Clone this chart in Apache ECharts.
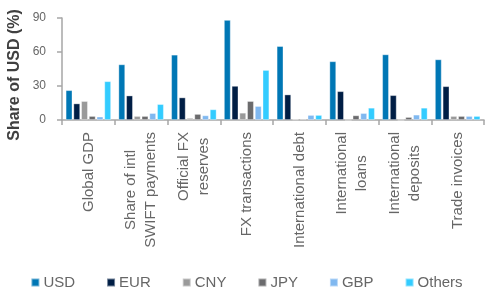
<!DOCTYPE html>
<html>
<head>
<meta charset="utf-8">
<script src="https://cdn.jsdelivr.net/npm/echarts@6/dist/echarts.min.js"></script>
<style>html,body{margin:0;padding:0;background:#fff}#c{width:493px;height:294px}</style>
</head>
<body>
<div id="c"></div>
<script>
const categories = ["Global GDP", "Share of intl\nSWIFT payments", "Official FX\nreserves", "FX transactions", "International debt", "International\nloans", "International\ndeposits", "Trade invoices"];
const seriesNames = ["USD", "EUR", "CNY", "JPY", "GBP", "Others"];
const usd = [26.3, 49.1, 57.6, 88.3, 65.2, 51.8, 57.9, 53.5];
const eur = [14.6, 21.6, 19.9, 30.1, 22.5, 25.4, 21.9, 29.8];
const cny = [16.7, 3.5, 1.8, 6.4, 0.6, 0, 0, 3.5];
const jpy = [3.5, 3.5, 5.3, 16.7, 0.9, 4.1, 2.6, 3.5];
const gbp = [3.0, 6.1, 4.1, 12.3, 4.4, 6.1, 4.7, 3.5];
const others = [34.2, 14.0, 9.4, 44.1, 4.4, 10.8, 10.8, 3.5];
const yTicks = [0, 30, 60, 90];
const yTitle = "Share of USD (%)";

const colors = ["#0077B5", "#001E45", "#9A9A9A", "#6B6B6D", "#80B8F0", "#33CCFF"];
const values = [usd, eur, cny, jpy, gbp, others];
const font = "'Liberation Sans', Arial, sans-serif";

const chart = echarts.init(document.getElementById('c'), null, {renderer: 'canvas'});
chart.setOption({
  animation: false,
  color: colors,
  textStyle: {fontFamily: font},
  grid: {left: 62, right: 9, top: 18, bottom: 174, containLabel: false},
  graphic: [{
    type: 'text',
    x: 15, y: 75,
    rotation: Math.PI / 2,
    style: {text: yTitle, font: "bold 16px " + font, fill: '#404040', textAlign: 'center', textVerticalAlign: 'middle'}
  }],
  legend: {
    data: seriesNames,
    top: 270,
    left: 'center',
    itemWidth: 8, itemHeight: 8, itemGap: 31,
    icon: 'rect',
    textStyle: {fontSize: 15, color: '#666', fontFamily: font, padding: [0, 0, 0, -1]}
  },
  xAxis: {
    type: 'category',
    data: categories,
    axisLine: {lineStyle: {color: '#A6A6A6', width: 1.5}},
    axisTick: {show: true, length: 5, lineStyle: {color: '#A6A6A6', width: 1.5}},
    axisLabel: {
      rotate: 90, interval: 0, margin: 12, color: '#666', fontSize: 15, lineHeight: 20, fontFamily: font,
      formatter: v => v.split('\n').map(s => '{c|' + s + '}').join('\n'),
      rich: {c: {align: 'center', fontSize: 15, lineHeight: 20, color: '#666', fontFamily: font}}
    }
  },
  yAxis: {
    type: 'value', min: yTicks[0], max: yTicks[yTicks.length - 1], interval: 30,
    splitLine: {show: false},
    axisLine: {show: true, lineStyle: {color: '#A6A6A6', width: 1.5}},
    axisTick: {show: true, length: 5, lineStyle: {color: '#A6A6A6', width: 1.5}},
    axisLabel: {margin: 16, color: '#666', fontSize: 12, fontFamily: font}
  },
  series: seriesNames.map((n, i) => ({
    name: n, type: 'bar', data: values[i],
    barGap: '15%', barCategoryGap: '14%',
    itemStyle: {color: colors[i], borderColor: 'rgba(255,255,255,0.45)', borderWidth: 0.8}
  }))
});
</script>
</body>
</html>
